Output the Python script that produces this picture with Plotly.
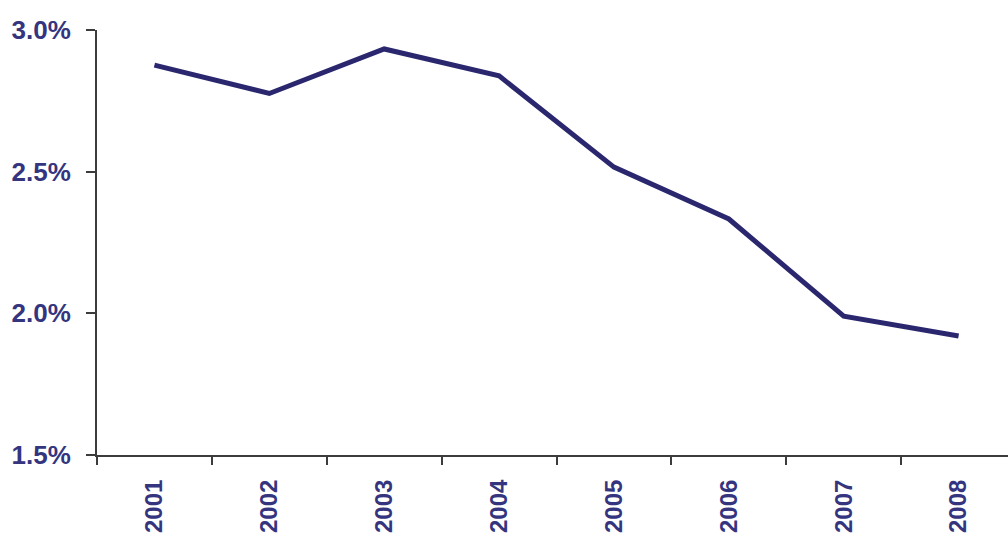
import plotly.graph_objects as go

years = ["2001", "2002", "2003", "2004", "2005", "2006", "2007", "2008"]
rate = [2.876, 2.776, 2.933, 2.838, 2.516, 2.333, 1.99, 1.92]

y_ticks = [1.5, 2.0, 2.5, 3.0]
y_tick_text = ["1.5%", "2.0%", "2.5%", "3.0%"]

navy = "#2A276E"
label_color = "#34357E"
axis_color = "#3C3C3C"

fig = go.Figure(
    go.Scatter(
        x=years,
        y=rate,
        mode="lines",
        line=dict(color=navy, width=5),
        hoverinfo="x+y",
    )
)

fig.update_layout(
    width=1008,
    height=539,
    margin=dict(l=97, r=0, t=30, b=84),
    paper_bgcolor="white",
    plot_bgcolor="white",
    showlegend=False,
    font=dict(family="Liberation Sans, Arial, sans-serif", color=label_color),
)

fig.update_xaxes(
    type="category",
    range=[-0.5, 7.43],
    tickson="boundaries",
    ticks="outside",
    ticklen=8,
    tickwidth=2,
    tickcolor=axis_color,
    tickangle=-90,
    tickfont=dict(size=24, color=label_color, family="Liberation Sans, Arial, sans-serif", weight="bold"),
    ticklabelstandoff=13,
    showline=True,
    linecolor=axis_color,
    linewidth=2,
    showgrid=False,
    zeroline=False,
)

fig.update_yaxes(
    range=[1.5, 3.0],
    tickvals=y_ticks,
    ticktext=y_tick_text,
    ticks="outside",
    ticklen=9,
    tickwidth=2,
    tickcolor=axis_color,
    tickfont=dict(size=26, color=label_color, family="Liberation Sans, Arial, sans-serif", weight="bold"),
    ticklabelstandoff=10,
    showline=True,
    linecolor=axis_color,
    linewidth=2,
    showgrid=False,
    zeroline=False,
)

fig.write_html("out.html")
